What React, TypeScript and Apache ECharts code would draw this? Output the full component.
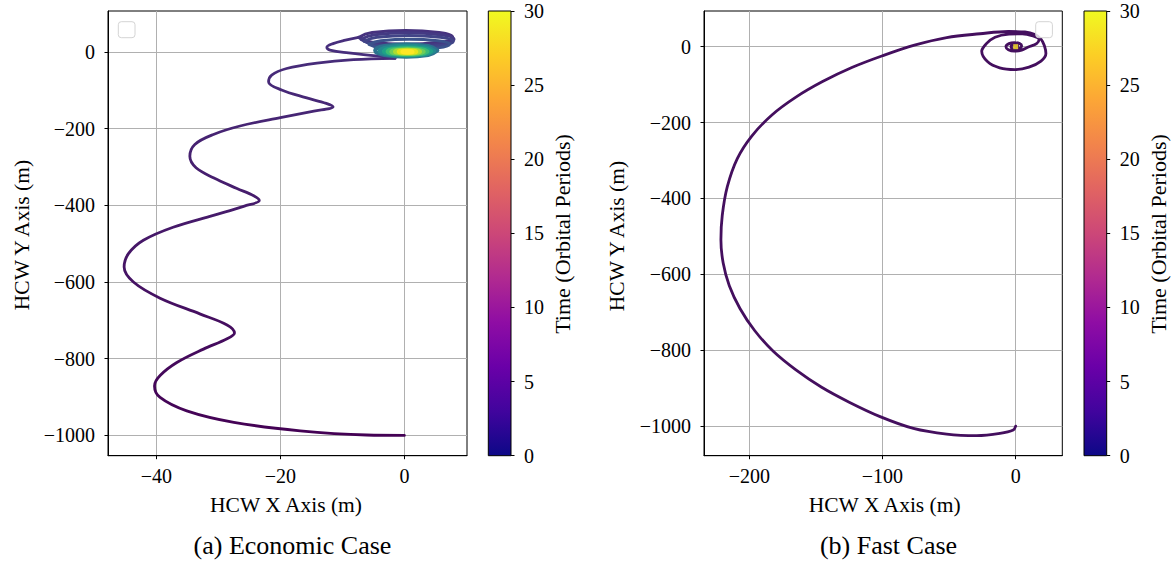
import React, { useEffect, useRef } from "react";
import * as echarts from "echarts";

const FONT = "'Liberation Serif', 'DejaVu Serif', serif";

// ---- Economic case (left) ----
const ECO_X_TICKS = [-40, -20, 0];
const ECO_Y_TICKS = [-1000, -800, -600, -400, -200, 0];
const ECO_APPROACH: number[][] = [
  [0, -1000], [-6.1, -999], [-16.8, -988], [-27.5, -966], [-35.1, -936], [-39.4, -901],
  [-40.3, -871], [-39.4, -844], [-36.7, -810], [-32.4, -775], [-28.6, -748], [-27.4, -733],
  [-28.6, -712], [-33, -683], [-39.4, -642], [-43.7, -600], [-45.2, -561], [-44.5, -526],
  [-42.1, -491], [-37.3, -457], [-30.8, -426], [-25.8, -402], [-23.4, -387], [-24.3, -375],
  [-27, -356], [-30.8, -328], [-33.6, -302], [-34.6, -272], [-33.8, -241], [-30.8, -215],
  [-26.5, -193], [-20, -171], [-14.6, -154], [-11.5, -143], [-12.6, -134], [-15.9, -119],
  [-19.8, -99], [-21.9, -78], [-21.4, -60], [-19, -43], [-14.1, -29], [-8.2, -20], [-1.5, -16.5],
];
const ECO_LOOP: number[][] = [
  [-1.5, -16.5], [-4.5, -10], [-9, -2.5], [-12, 5], [-12.5, 12.5], [-11.5, 22], [-9.5, 31], [-7.4, 38],
];
const ECO_RINGS: number[][][] = [
  [[-7.4, 38], [-5.2, 50.8], [0.2, 56], [5.6, 50.8], [7.8, 38], [5.6, 25.2], [0.2, 20], [-5.2, 25.2], [-7.4, 38]],
  [[-7, 33], [-4.8, 45.1], [0.5, 50], [5.8, 45.1], [8, 33], [5.8, 20.9], [0.5, 16], [-4.8, 20.9], [-7, 33]],
  [[-6.5, 28], [-4.4, 38.7], [0.7, 43], [5.8, 38.7], [7.9, 28], [5.8, 17.3], [0.7, 13], [-4.4, 17.3], [-6.5, 28]],
  [[-5.7, 20], [-3.8, 29.2], [0.8, 33], [5.4, 29.2], [7.3, 20], [5.4, 10.8], [0.8, 7], [-3.8, 10.8], [-5.7, 20]],
];
const ECO_RING_COLORS = ["#46327e", "#443a83", "#414487", "#3b528b"];
const ECO_CORE: number[][][] = [
  [[5.3, 4], [3.85, 15.4], [0.3, 20], [-3.25, 15.4], [-4.7, 4], [-3.25, -7.4], [0.3, -12], [3.85, -7.4], [5.3, 4]],
  [[4.8, 3], [3.5, 12.2], [0.4, 16], [-2.7, 12.2], [-4, 3], [-2.7, -6.2], [0.4, -10], [3.5, -6.2], [4.8, 3]],
  [[4.3, 2], [3.2, 9.1], [0.5, 12], [-2.2, 9.1], [-3.3, 2], [-2.2, -5.1], [0.5, -8], [3.2, -5.1], [4.3, 2]],
  [[3.7, 1.5], [2.8, 7.2], [0.5, 9.5], [-1.8, 7.2], [-2.7, 1.5], [-1.8, -4.2], [0.5, -6.5], [2.8, -4.2], [3.7, 1.5]],
  [[3.1, 1], [2.35, 5.3], [0.5, 7], [-1.35, 5.3], [-2.1, 1], [-1.35, -3.3], [0.5, -5], [2.35, -3.3], [3.1, 1]],
  [[2.5, 1], [1.9, 4.2], [0.5, 5.5], [-0.9, 4.2], [-1.5, 1], [-0.9, -2.2], [0.5, -3.5], [1.9, -2.2], [2.5, 1]],
  [[1.9, 0.8], [1.5, 2.9], [0.5, 3.8], [-0.5, 2.9], [-0.9, 0.8], [-0.5, -1.3], [0.5, -2.2], [1.5, -1.3], [1.9, 0.8]],
  [[1.3, 0.5], [1.07, 1.57], [0.5, 2], [-0.07, 1.57], [-0.3, 0.5], [-0.07, -0.57], [0.5, -1], [1.07, -0.57], [1.3, 0.5]],
];
const ECO_CORE_COLORS = ["#2c728e", "#23898e", "#1fa187", "#3bbb75", "#6ccd5a", "#aadc32", "#e5e419", "#fde725"];

// ---- Fast case (right) ----
const FAST_X_TICKS = [-200, -100, 0];
const FAST_Y_TICKS = [-1000, -800, -600, -400, -200, 0];
const FAST_PATH: number[][] = [
  [0, -1000], [-1.8, -1010], [-11.8, -1019], [-29.3, -1025], [-51.8, -1021], [-76.8, -1006],
  [-101.8, -975], [-125, -937], [-146, -897], [-165, -852], [-182, -803], [-196, -748],
  [-207, -690], [-215, -630], [-219.6, -570], [-221.3, -509], [-220.3, -445], [-216.5, -369],
  [-209, -295], [-198, -235], [-183, -180], [-165, -133], [-145, -92], [-123, -55], [-100, -24],
  [-76, 4], [-51.8, 24], [-26.8, 34], [-5.5, 40], [7, 38.7], [14.5, 31.7], [19, 20], [21.5, 3],
  [22.7, -18], [19, -38], [10, -54], [-0.5, -60.5], [-12, -56], [-21, -40], [-25.5, -12],
  [-22, 8], [-15.5, 25], [-5, 33], [5, 34], [13, 28], [17.5, 19], [15.7, 8], [9.5, -1],
  [4.5, -9], [-1, -12], [-5.5, -8], [-7.3, 0], [-5, 8], [-1, 10.5], [3, 8], [4.5, 2],
  [3, -4], [0, -6], [-3, -4], [-3.5, 1], [-1, 4], [1.5, 3], [1.5, 0], [0, -1], [0, 0],
];
const FAST_END: number[][] = [[0, 0]];

// ---- Colour bar ----
const CBAR_TICKS = [0, 5, 10, 15, 20, 25, 30];
const PLASMA = ["#0d0887", "#41049d", "#6a00a8", "#8f0da4", "#b12a90", "#cc4778", "#e16462", "#f2844b", "#fca636", "#fcce25", "#f0f921"];

const fmt = (v: number) => (v < 0 ? "\u2212" + String(-v) : String(v));

function mainAxis(gridIndex: number, min: number, max: number, ticks: number[], isX: boolean) {
  return {
    type: "value",
    gridIndex,
    min,
    max,
    axisLine: { show: true, onZero: false, lineStyle: { color: "#000", width: 1 } },
    axisTick: { show: true, length: 3.5, customValues: ticks, lineStyle: { color: "#000", width: 1 } },
    axisLabel: {
      customValues: ticks,
      formatter: fmt,
      margin: isX ? 10 : 13,
      color: "#000",
      fontFamily: FONT,
      fontSize: 20,
    },
    splitLine: { show: true, lineStyle: { color: "#b0b0b0", width: 1 } },
  };
}

function cbarAxes(gridIndex: number) {
  return {
    x: { type: "value", gridIndex, min: 0, max: 1, show: false },
    y: {
      type: "value",
      gridIndex,
      min: 0,
      max: 30,
      interval: 5,
      position: "right",
      axisLine: { show: false, onZero: false },
      axisTick: { show: true, length: 3.5, lineStyle: { color: "#000", width: 1 } },
      axisLabel: { margin: 13, color: "#000", fontFamily: FONT, fontSize: 20, customValues: CBAR_TICKS },
      splitLine: { show: false },
    },
  };
}

function lineSeries(data: number[][], xi: number, color: any, smooth: number, z = 2, width = 2.8) {
  return {
    type: "line",
    xAxisIndex: xi,
    yAxisIndex: xi,
    data,
    symbol: "none",
    showSymbol: false,
    smooth,
    z,
    silent: true,
    lineStyle: { color, width, cap: "round", join: "round" },
  };
}

function txt(text: string, x: number, y: number, size: number, rotate = false) {
  return {
    type: "text",
    x,
    y,
    rotation: rotate ? Math.PI / 2 : 0,
    silent: true,
    style: {
      text,
      x: 0,
      y: 0,
      font: `${size}px ${FONT}`,
      fill: "#000",
      textAlign: "center",
      textVerticalAlign: "middle",
      align: "center",
      verticalAlign: "middle",
    },
  };
}

function plasmaGradient() {
  return new echarts.graphic.LinearGradient(
    0, 1, 0, 0,
    PLASMA.map((c, i) => ({ offset: i / (PLASMA.length - 1), color: c }))
  );
}

export default function App() {
  const ref = useRef<HTMLDivElement>(null);
  useEffect(() => {
    if (!ref.current) return;
    const chart = echarts.init(ref.current, undefined, { renderer: "svg" });
    const cb1 = cbarAxes(1);
    const cb2 = cbarAxes(3);
    const approachGrad = new echarts.graphic.LinearGradient(0, 0, 0, 1, [
      { offset: 0, color: "#472c7a" },
      { offset: 1, color: "#440154" },
    ]);
    const series: any[] = [];
    series.push(lineSeries(ECO_APPROACH, 0, approachGrad, 0.35));
    series.push(lineSeries(ECO_LOOP, 0, "#472e7c", 0.4));
    ECO_RINGS.forEach((r, i) => series.push(lineSeries(r, 0, ECO_RING_COLORS[i], 0.5, 3, 3)));
    ECO_CORE.forEach((r, i) => series.push(lineSeries(r, 0, ECO_CORE_COLORS[i], 0.5, 4, 4.2)));
    series.push(lineSeries(FAST_PATH, 2, "#440f5e", 0.35));
    series.push({
      type: "scatter",
      xAxisIndex: 2,
      yAxisIndex: 2,
      data: FAST_END,
      symbol: "rect",
      symbolSize: 5,
      z: 5,
      silent: true,
      itemStyle: { color: "#fde725" },
    });

    const gridBase = { show: true, borderColor: "#000", borderWidth: 1, backgroundColor: "transparent", containLabel: false, outerBoundsMode: "none" };
    chart.setOption({
      animation: false,
      backgroundColor: "#fff",
      grid: [
        { ...gridBase, left: 108, top: 11, width: 359, height: 444.7 },
        { ...gridBase, show: false, left: 488.3, top: 11, width: 22.7, height: 444.7 },
        { ...gridBase, left: 704, top: 11, width: 358.3, height: 444.7 },
        { ...gridBase, show: false, left: 1084, top: 11, width: 22.7, height: 444.7 },
      ],
      xAxis: [
        mainAxis(0, -47.8, 10.1, ECO_X_TICKS, true),
        cb1.x,
        mainAxis(2, -234, 35, FAST_X_TICKS, true),
        cb2.x,
      ],
      yAxis: [
        mainAxis(0, -1053, 107, ECO_Y_TICKS, false),
        cb1.y,
        mainAxis(2, -1078, 94, FAST_Y_TICKS, false),
        cb2.y,
      ],
      series,
      graphic: [
        { type: "rect", shape: { x: 488.3, y: 11, width: 22.7, height: 444.7 }, style: { fill: plasmaGradient(), stroke: "#000", lineWidth: 1 }, silent: true, z: 10 },
        { type: "rect", shape: { x: 1084, y: 11, width: 22.7, height: 444.7 }, style: { fill: plasmaGradient(), stroke: "#000", lineWidth: 1 }, silent: true, z: 10 },
        { type: "rect", shape: { x: 118.3, y: 21.7, width: 16.7, height: 16, r: 3 }, style: { fill: "rgba(255,255,255,0.8)", stroke: "#d4d4d4", lineWidth: 1 }, silent: true, z: 10 },
        { type: "rect", shape: { x: 1035.7, y: 21.7, width: 16.7, height: 16, r: 3 }, style: { fill: "rgba(255,255,255,0.8)", stroke: "#d4d4d4", lineWidth: 1 }, silent: true, z: 10 },
        txt("HCW Y Axis (m)", 21.5, 235, 21.5, true),
        txt("HCW X Axis (m)", 286, 505, 21.5),
        txt("(a) Economic Case", 292.5, 545, 26),
        txt("Time (Orbital Periods)", 562, 234, 22, true),
        txt("HCW Y Axis (m)", 617, 236, 21.5, true),
        txt("HCW X Axis (m)", 884.7, 505, 21.5),
        txt("(b) Fast Case", 888.5, 545, 26),
        txt("Time (Orbital Periods)", 1158, 234, 22, true),
      ],
    });
    return () => chart.dispose();
  }, []);
  return (
    <div
      ref={ref}
      style={{ position: "absolute", left: 0, top: 0, width: 1172, height: 563, background: "#fff" }}
    />
  );
}
